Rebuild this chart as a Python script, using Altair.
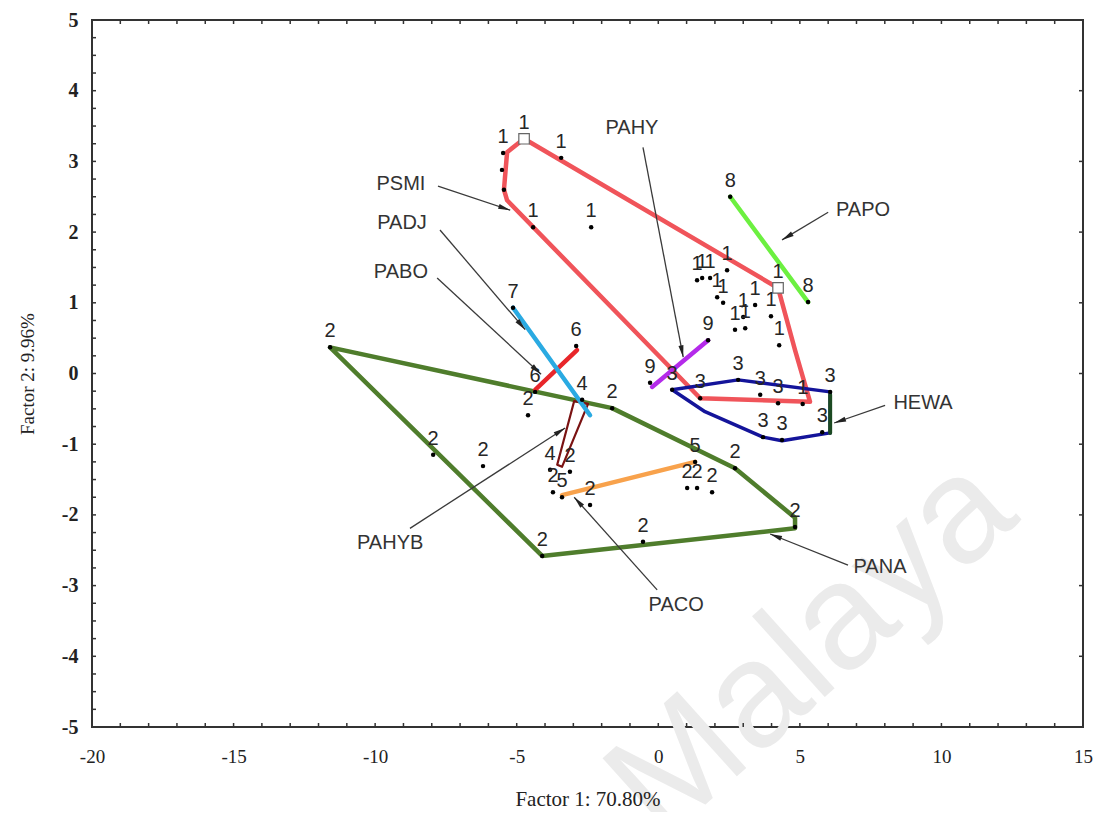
import math
import altair as alt
import pandas as pd

# ---------------- data (data units) ----------------
# hull / segment outlines per group
G1_X = [-4.74, -5.34, -5.45, -5.34, 1.48, 5.36, 4.83, 4.23, -4.74]
G1_Y = [3.32, 3.13, 2.60, 2.45, -0.35, -0.40, 0.33, 1.21, 3.32]
G2_X = [-11.59, -1.63, 2.71, 4.83, 4.83, -4.10, -11.59]
G2_Y = [0.37, -0.49, -1.34, -2.04, -2.19, -2.58, 0.37]
G3_X = [0.49, 2.82, 6.07, 6.07, 4.37, 3.70, 1.65, 0.49]
G3_Y = [-0.23, -0.09, -0.26, -0.84, -0.95, -0.90, -0.54, -0.23]
HEWA_X = [6.07, 6.07]
HEWA_Y = [-0.30, -0.84]
G4_X = [-3.57, -2.97, -2.48, -3.40, -3.57]
G4_Y = [-1.29, -0.39, -0.43, -1.32, -1.29]
G6_X = [-4.35, -2.87]
G6_Y = [-0.23, 0.33]
G7_X = [-5.13, -2.41]
G7_Y = [0.93, -0.59]
G9_X = [-0.22, 1.76]
G9_Y = [-0.19, 0.47]
G8_X = [2.54, 5.29]
G8_Y = [2.50, 1.01]
G5_X = [-3.40, 1.30]
G5_Y = [-1.72, -1.25]

HULLS = [
    ("g1", G1_X, G1_Y, "#f0545a", 4.5),
    ("g2", G2_X, G2_Y, "#4f7d2c", 4.5),
    ("g3", G3_X, G3_Y, "#14149a", 3.5),
    ("hewa", HEWA_X, HEWA_Y, "#1c4a22", 4),
    ("g4", G4_X, G4_Y, "#7a1212", 2.2),
    ("g6", G6_X, G6_Y, "#e8262a", 4.5),
    ("g7", G7_X, G7_Y, "#2aaae2", 4.5),
    ("g9", G9_X, G9_Y, "#b42aea", 4.5),
    ("g8", G8_X, G8_Y, "#6cf040", 4.5),
    ("g5", G5_X, G5_Y, "#f8a24c", 4.5),
]

# observation points and their group numbers
PT_X = [-4.74, -5.48, -3.43, -5.52, -5.45, -4.42, -2.37, 1.37, 1.55, 1.83, 2.43,
        2.08, 2.29, 3.00, 2.71, 3.07, 3.42, 3.98, 4.27, 4.23, 5.10,
        1.48, 2.82, 3.60, 4.23, 6.07, 5.79, 3.70, 4.37, 0.49,
        -11.59, -7.95, -6.19, -4.60, -1.63, -3.12, -2.41, -4.10, -0.54, 2.71,
        4.83, 1.02, 1.37, 1.90, -3.72,
        -2.69, -3.82, -3.40, 1.30, -2.90, -4.35, -5.13, -0.29, 1.76, 2.54, 5.29]
PT_Y = [3.32, 3.12, 3.05, 2.88, 2.60, 2.07, 2.07, 1.32, 1.35, 1.35, 1.46,
        1.08, 1.00, 0.80, 0.62, 0.64, 0.97, 0.81, 0.40, 1.21, -0.43,
        -0.35, -0.09, -0.30, -0.42, -0.26, -0.83, -0.90, -0.94, -0.23,
        0.37, -1.15, -1.31, -0.59, -0.49, -1.39, -1.86, -2.58, -2.38, -1.34,
        -2.17, -1.62, -1.62, -1.68, -1.68,
        -0.37, -1.36, -1.75, -1.25, 0.39, -0.26, 0.93, -0.13, 0.47, 2.50, 1.01]
PT_LABEL = ["1", "1", "1", "", "", "1", "1", "1", "1", "1", "1",
            "1", "1", "1", "1", "1", "1", "1", "1", "1", "1",
            "3", "3", "3", "3", "3", "3", "3", "3", "3",
            "2", "2", "2", "2", "2", "2", "2", "2", "2", "2",
            "2", "2", "2", "2", "2",
            "4", "4", "5", "5", "6", "6", "7", "9", "9", "8", "8"]

# group centroids marked with squares
SQ_X = [-4.74, 4.23]
SQ_Y = [3.32, 1.21]

# annotation names, text positions and arrow start/end
ANN_NAME = ["PSMI", "PADJ", "PABO", "PAHY", "PAPO", "HEWA", "PANA", "PACO", "PAHYB"]
ANN_TX = [-9.09, -9.05, -9.09, -0.93, 7.23, 9.35, 7.83, 0.63, -9.47]
ANN_TY = [2.68, 2.13, 1.44, 3.47, 2.31, -0.42, -2.74, -3.27, -2.40]
ARR_X1 = [-7.78, -7.71, -7.81, -0.54, 6.00, 8.01, 6.70, -0.04, -8.77]
ARR_Y1 = [2.65, 2.03, 1.35, 3.20, 2.28, -0.45, -2.71, -3.06, -2.19]
ARR_X2 = [-5.23, -4.70, -4.14, 0.88, 4.37, 6.21, 3.95, -2.97, -3.29]
ARR_Y2 = [2.31, 0.62, -0.01, 0.23, 1.89, -0.70, -2.27, -1.75, -0.77]

# axis ticks
X_TICKS = [-20, -15, -10, -5, 0, 5, 10, 15]
Y_TICKS = [-5, -4, -3, -2, -1, 0, 1, 2, 3, 4, 5]
X_MINOR = list(range(-19, 15))
Y_MINOR_LEFT = [v / 4 for v in range(-19, 20)]
Y_MINOR_RIGHT = list(range(-4, 5))

# ---------------- layout ----------------
W, H = 991, 707
XD, YD = [-20, 15], [-5, 5]
SX, SY = W / (XD[1] - XD[0]), H / (YD[1] - YD[0])

XAX = alt.Axis(values=X_TICKS, ticks=False, domain=False, grid=False,
               labelExpr="'' + datum.value", zindex=1,
               labelFont="Liberation Serif", labelFontSize=19, labelColor="#222",
               labelPadding=20, title="Factor 1: 70.80%", titleFont="Liberation Serif",
               titleFontSize=21, titleFontWeight="normal", titleColor="#222",
               titlePadding=22, labelFlush=False)
YAX = alt.Axis(values=Y_TICKS, ticks=False, domain=False, grid=False,
               labelExpr="'' + datum.value", zindex=1,
               labelFont="Liberation Serif", labelFontSize=20, labelFontWeight="bold",
               labelColor="#222", labelPadding=14, title="Factor 2:  9.96%",
               titleFont="Liberation Serif", titleFontSize=19, titleFontWeight="normal",
               titleColor="#222", titlePadding=24, labelFlush=False)


def X(f="x"):
    return alt.X(f"{f}:Q", scale=alt.Scale(domain=XD, nice=False, zero=False), axis=XAX)


def Y(f="y"):
    return alt.Y(f"{f}:Q", scale=alt.Scale(domain=YD, nice=False, zero=False), axis=YAX)


# hull table
rows = []
for name, xs, ys, col, w in HULLS:
    for i, (a, b) in enumerate(zip(xs, ys)):
        rows.append({"grp": name, "i": i, "x": a, "y": b, "col": col, "w": w})
hull_df = pd.DataFrame(rows)

pts_df = pd.DataFrame({"x": PT_X, "y": PT_Y, "lab": PT_LABEL})
sq_df = pd.DataFrame({"x": SQ_X, "y": SQ_Y})
ann_df = pd.DataFrame({"name": ANN_NAME, "x": ANN_TX, "y": ANN_TY})

arr_rows, head_rows = [], []
R = 6.0  # arrow-head half length in px (size = (2R)^2)
for k, n in enumerate(ANN_NAME):
    x1, y1, x2, y2 = ARR_X1[k], ARR_Y1[k], ARR_X2[k], ARR_Y2[k]
    arr_rows.append({"id": n, "i": 0, "x": x1, "y": y1})
    arr_rows.append({"id": n, "i": 1, "x": x2, "y": y2})
    dxp, dyp = (x2 - x1) * SX, -(y2 - y1) * SY
    L = math.hypot(dxp, dyp)
    ux, uy = dxp / L, dyp / L
    ang = math.degrees(math.atan2(ux, -uy)) % 360
    head_rows.append({"x": x2 - ux * R / SX, "y": y2 + uy * R / SY, "ang": ang})
arr_df = pd.DataFrame(arr_rows)
head_df = pd.DataFrame(head_rows)

# ---------------- layers ----------------
watermark = alt.Chart(pd.DataFrame({"t": ["Malaya"]})).mark_text(
    font="Liberation Sans", fontSize=150, color="#ebebeb", angle=318,
    align="center", baseline="middle"
).encode(text="t:N", x=alt.value(720), y=alt.value(628))

hulls = alt.Chart(hull_df).mark_line(strokeJoin="round", strokeCap="round").encode(
    x=X(), y=Y(), detail="grp:N", order="i:Q",
    color=alt.Color("col:N", scale=None),
    strokeWidth=alt.StrokeWidth("w:Q", scale=None),
)

dots = alt.Chart(pts_df).mark_circle(size=20, color="#000", opacity=1).encode(x=X(), y=Y())

labels = alt.Chart(pts_df).mark_text(
    font="Liberation Sans", fontSize=20, color="#262626", baseline="middle", dy=-16
).encode(x=X(), y=Y(), text="lab:N")

squares = alt.Chart(sq_df).mark_point(
    shape="square", size=110, filled=True, fill="white", stroke="#666", strokeWidth=1.2,
    opacity=1
).encode(x=X(), y=Y())

arrows = alt.Chart(arr_df).mark_line(color="#3a3a3a", strokeWidth=1.3).encode(
    x=X(), y=Y(), detail="id:N", order="i:Q"
)
heads = alt.Chart(head_df).mark_point(
    shape="M0,-1L0.42,1L-0.42,1Z", size=(2 * R) ** 2, filled=True, color="#222", opacity=1
).encode(x=X(), y=Y(), angle=alt.Angle("ang:Q", scale=None))

ann_text = alt.Chart(ann_df).mark_text(
    font="Liberation Sans", fontSize=20, color="#333", baseline="middle"
).encode(x=X(), y=Y(), text="name:N")

# minor ticks pointing into the plot
xt_df = pd.DataFrame({"x": X_MINOR})
ylt_df = pd.DataFrame({"y": Y_MINOR_LEFT})
yrt_df = pd.DataFrame({"y": Y_MINOR_RIGHT})
tick_style = dict(color="#333", strokeWidth=1.5)
tick_b = alt.Chart(xt_df).mark_rule(**tick_style).encode(x=X(), y=alt.value(H), y2=alt.value(H - 4))
tick_t = alt.Chart(xt_df).mark_rule(**tick_style).encode(x=X(), y=alt.value(0), y2=alt.value(4))
tick_l = alt.Chart(ylt_df).mark_rule(**tick_style).encode(y=Y(), x=alt.value(0), x2=alt.value(4))
tick_r = alt.Chart(yrt_df).mark_rule(**tick_style).encode(y=Y(), x=alt.value(W), x2=alt.value(W - 4))

chart = alt.layer(
    watermark, hulls, dots, squares, labels, arrows, heads, ann_text,
    tick_b, tick_t, tick_l, tick_r
).properties(
    width=W, height=H, autosize="none",
    padding={"left": 84, "top": 12, "right": 10, "bottom": 85},
    background="white",
).configure_view(stroke="#333", strokeWidth=2)

chart.save("out.html", embed_options={"renderer": "svg", "actions": False})
